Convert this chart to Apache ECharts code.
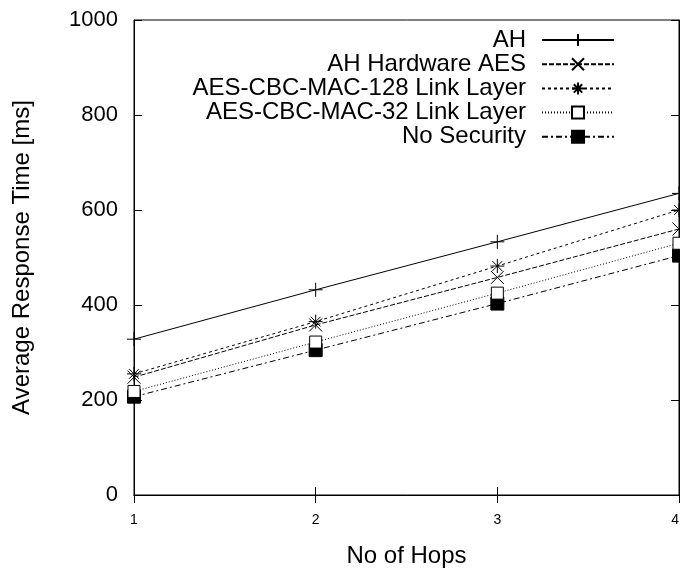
<!DOCTYPE html>
<html>
<head>
<meta charset="utf-8">
<script src="https://cdn.jsdelivr.net/npm/echarts@6/dist/echarts.min.js"></script>
<style>
  html, body { margin: 0; padding: 0; background: #fff; }
  #chart { width: 680px; height: 569px; }
</style>
</head>
<body>
<div id="chart"></div>
<script>
// data
var hops = [1, 2, 3, 4];
var ah = [328, 432, 533, 635];
var ahHardwareAes = [248, 358, 458, 560];
var mac128 = [255, 365, 482, 600];
var mac32 = [218, 322, 425, 530];
var noSecurity = [207, 305, 403, 504];
var yTicks = [0, 200, 400, 600, 800, 1000];

var names = ["AH", "AH Hardware AES", "AES-CBC-MAC-128 Link Layer", "AES-CBC-MAC-32 Link Layer", "No Security"];
var values = [ah, ahHardwareAes, mac128, mac32, noSecurity];

var plusPath = "path://M0,5L10,5M5,0L5,10";
var crossPath = "path://M0,0L10,10M0,10L10,0";
var starPath = "path://M0,5L10,5M5,0L5,10M1.5,1.5L8.5,8.5M1.5,8.5L8.5,1.5";

var looks = [
  { symbol: plusPath, size: 14, fill: "none", dash: "solid" },
  { symbol: crossPath, size: 13, fill: "none", dash: [5, 2] },
  { symbol: starPath, size: 14, fill: "none", dash: [3, 3] },
  { symbol: "rect", size: 12, fill: "#fff", dash: [1, 2] },
  { symbol: "rect", size: 13, fill: "#000", dash: [6, 3, 2, 3] }
];

function pairs(arr) {
  return hops.map(function (h, i) { return [h, arr[i]]; });
}

var series = names.map(function (name, i) {
  var lk = looks[i];
  return {
    name: name,
    type: "line",
    data: pairs(values[i]),
    symbol: lk.symbol,
    symbolSize: lk.size,
    showAllSymbol: true,
    z: 10 - i,
    lineStyle: { color: "#000", width: 1, type: lk.dash },
    itemStyle: { color: lk.fill, borderColor: "#000", borderWidth: 1 },
    emphasis: { disabled: true },
    animation: false
  };
});

// one legend per row so the keys line up on the right like gnuplot
var legends = names.map(function (name, i) {
  return {
    data: [name],
    right: 65,
    top: 28 + i * 24.2,
    align: "right",
    itemWidth: 72,
    itemHeight: 15,
    padding: 0,
    selectedMode: false,
    textStyle: {
      fontFamily: "Liberation Sans",
      fontSize: 24,
      color: "#000",
      padding: [0, 11, 0, 0]
    }
  };
});

var axisLine = { show: true, lineStyle: { color: "#000", width: 1 } };
var plain = function (v) { return String(v); };

var option = {
  backgroundColor: "#fff",
  animation: false,
  legend: legends,
  grid: {
    left: 134, right: 1, top: 20, bottom: 74,
    outerBoundsMode: "none", containLabel: false,
    show: true, borderColor: "#000", borderWidth: 1
  },
  xAxis: [
    {
      type: "value", min: 1, max: 4, interval: 1,
      name: "No of Hops", nameLocation: "middle", nameGap: 49,
      nameTextStyle: { fontFamily: "Liberation Sans", fontSize: 24, color: "#000" },
      axisLine: axisLine,
      axisTick: { inside: true, length: 8, lineStyle: { color: "#000" } },
      axisLabel: {
        fontFamily: "Liberation Sans", fontSize: 14, color: "#000", margin: 18,
        formatter: plain, alignMaxLabel: "right"
      },
      splitLine: { show: false }
    },
    {
      type: "value", min: 1, max: 4, interval: 1, position: "top",
      axisLine: axisLine,
      axisTick: { inside: true, length: 8, lineStyle: { color: "#000" } },
      axisLabel: { show: false },
      splitLine: { show: false }
    }
  ],
  yAxis: [
    {
      type: "value", min: yTicks[0], max: yTicks[yTicks.length - 1], interval: 200,
      name: "Average Response Time [ms]", nameLocation: "middle", nameGap: 100,
      nameTextStyle: { fontFamily: "Liberation Sans", fontSize: 24, color: "#000" },
      axisLine: axisLine,
      axisTick: { inside: true, length: 8, lineStyle: { color: "#000" } },
      axisLabel: { fontFamily: "Liberation Sans", fontSize: 22, color: "#000", margin: 16, formatter: plain },
      splitLine: { show: false }
    },
    {
      type: "value", min: 0, max: 1000, interval: 200, position: "right",
      axisLine: axisLine,
      axisTick: { inside: true, length: 8, lineStyle: { color: "#000" } },
      axisLabel: { show: false },
      splitLine: { show: false }
    }
  ],
  series: series
};

var myChart = echarts.init(document.getElementById("chart"));
myChart.setOption(option);
</script>
</body>
</html>
